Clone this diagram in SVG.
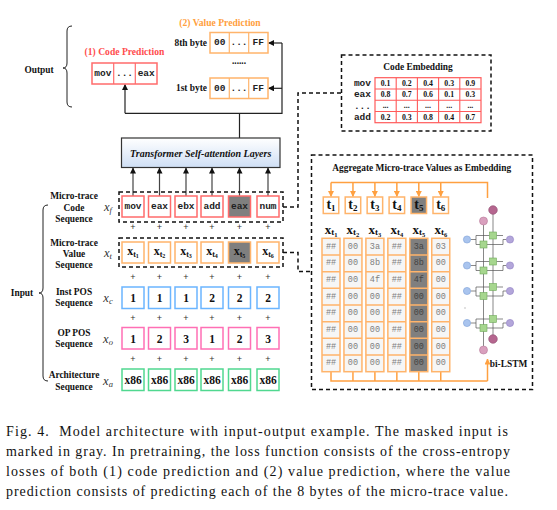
<svg xmlns="http://www.w3.org/2000/svg" width="557" height="510" viewBox="0 0 557 510">
<defs>
<style>
.lbl{font-family:"Liberation Serif",serif;font-weight:bold;font-size:9.4px;text-anchor:middle;dominant-baseline:central;fill:#111}
.mono{font-family:"Liberation Mono",monospace;font-weight:bold;font-size:9.5px;text-anchor:middle;dominant-baseline:central;fill:#222}
.num{font-family:"Liberation Serif",serif;font-weight:bold;font-size:11.5px;text-anchor:middle;dominant-baseline:central;fill:#111}
.math{font-family:"Liberation Serif",serif;font-style:italic;font-size:12.5px;text-anchor:middle;dominant-baseline:central;fill:#333}
.plus{font-family:"Liberation Sans",sans-serif;font-size:9px;text-anchor:middle;dominant-baseline:central;fill:#333}
.val{font-family:"Liberation Serif",serif;font-weight:bold;font-size:7.8px;text-anchor:middle;dominant-baseline:central;fill:#111}
.grid{font-family:"Liberation Mono",monospace;font-size:8.5px;text-anchor:middle;dominant-baseline:central;fill:#808080}
.cap{font-family:"Liberation Serif",serif;font-size:14px;fill:#111}
.cr{fill:#fff;stroke:#FF6B6B;stroke-width:1.5}
.co{fill:#fff;stroke:#FFB46B;stroke-width:1.5}
.cb{fill:#fff;stroke:#6BB5FF;stroke-width:1.5}
.cp{fill:#fff;stroke:#FF6FB5;stroke-width:1.5}
.cg{fill:#fff;stroke:#50D890;stroke-width:1.5}
.dash{fill:none;stroke:#111;stroke-width:1.5;stroke-dasharray:4 3}
.ln{fill:none;stroke:#222;stroke-width:1.2}
.ol{fill:none;stroke:#FFA040;stroke-width:1.5}
.lb{fill:#A9C4EE;stroke:#7C9FD6;stroke-width:0.6}
.lpu{fill:#B3A6DA;stroke:#8E7DC2;stroke-width:0.6}
.lg{fill:#A6D68E;stroke:#6FA85A;stroke-width:0.6}
.lt{fill:none;stroke:#555;stroke-width:0.7}
</style>
<marker id="ah" viewBox="0 0 6 6" refX="5.5" refY="3" markerWidth="6" markerHeight="6" markerUnits="userSpaceOnUse" orient="auto"><path d="M0,0 L6,3 L0,6 z" fill="#111"/></marker>
<marker id="aho" viewBox="0 0 6 6" refX="5.5" refY="3" markerWidth="6" markerHeight="6" markerUnits="userSpaceOnUse" orient="auto"><path d="M0,0 L6,3 L0,6 z" fill="#FFA040"/></marker>
<linearGradient id="tg" x1="0" y1="0" x2="0" y2="1"><stop offset="0" stop-color="#FFFFFF"/><stop offset="1" stop-color="#CFDFF5"/></linearGradient>
</defs>
<rect width="557" height="510" fill="#fff"/>

<g id="connectors">
<path class="ln" d="M239.5,138 V113.3 M125,113.3 H282 V43" />
<line class="ln" x1="125" y1="113.3" x2="125" y2="84.5" marker-end="url(#ah)"/>
<line class="ln" x1="282" y1="43" x2="268.5" y2="43" marker-end="url(#ah)"/>
<line class="ln" x1="282" y1="88.3" x2="268.5" y2="88.3" marker-end="url(#ah)"/>
<g stroke="#444" stroke-width="1.2">
<line x1="133" y1="196" x2="133" y2="168" marker-end="url(#ah)"/>
<line x1="159.5" y1="196" x2="159.5" y2="168" marker-end="url(#ah)"/>
<line x1="186" y1="196" x2="186" y2="168" marker-end="url(#ah)"/>
<line x1="212" y1="196" x2="212" y2="168" marker-end="url(#ah)"/>
<line x1="239.5" y1="196" x2="239.5" y2="168" marker-end="url(#ah)"/>
<line x1="268" y1="196" x2="268" y2="168" marker-end="url(#ah)"/>
</g>
<path class="dash" d="M283,207 H298 V93 H341.5"/>
<path class="dash" d="M283,252.5 H298 V271.5 H311.5"/>
<path class="ol" d="M331,182.5 H487.5 V198"/>
<g class="ol">
<line x1="331" y1="182.5" x2="331" y2="196.5" marker-end="url(#aho)"/>
<line x1="352.95" y1="182.5" x2="352.95" y2="196.5" marker-end="url(#aho)"/>
<line x1="374.9" y1="182.5" x2="374.9" y2="196.5" marker-end="url(#aho)"/>
<line x1="396.85" y1="182.5" x2="396.85" y2="196.5" marker-end="url(#aho)"/>
<line x1="418.8" y1="182.5" x2="418.8" y2="196.5" marker-end="url(#aho)"/>
<line x1="440.75" y1="182.5" x2="440.75" y2="196.5" marker-end="url(#aho)"/>
</g>
<path class="ol" d="M331,371.7 V381 H487.5 M352.95,371.7 V381 M374.9,371.7 V381 M396.85,371.7 V381 M418.8,371.7 V381 M440.75,371.7 V381"/>
<line class="ol" x1="487.5" y1="381" x2="487.5" y2="359" marker-end="url(#aho)"/>
</g>

<g id="output">
<text class="lbl" x="39" y="70">Output</text>
<path d="M72,26 Q67,26 67,31 V63 Q67,68 63,68 Q67,68 67,73 V102 Q67,107 72,107" fill="none" stroke="#222" stroke-width="1"/>
</g>

<g id="code-prediction">
<text class="lbl" x="124.5" y="51" style="fill:#FF4D4D;font-size:9.6px">(1) Code Prediction</text>
<rect class="cr" x="92" y="63" width="65" height="21"/>
<line x1="113.7" y1="63" x2="113.7" y2="84" stroke="#FF6B6B" stroke-width="1.2"/>
<line x1="135.3" y1="63" x2="135.3" y2="84" stroke="#FF6B6B" stroke-width="1.2"/>
<text class="mono" x="102.8" y="73.5">mov</text>
<text class="mono" x="124.5" y="73.5">...</text>
<text class="mono" x="146.2" y="73.5">eax</text>
</g>

<g id="value-prediction">
<text class="lbl" x="220" y="22.5" style="fill:#FFA040;font-size:9.6px">(2) Value Prediction</text>
<text class="lbl" x="207" y="43" style="text-anchor:end">8th byte</text>
<rect class="co" x="210" y="32.5" width="58" height="20.5"/>
<line x1="229.3" y1="32.5" x2="229.3" y2="53" stroke="#FFB46B" stroke-width="1.2"/>
<line x1="248.7" y1="32.5" x2="248.7" y2="53" stroke="#FFB46B" stroke-width="1.2"/>
<text class="mono" x="219.7" y="42.8">00</text>
<text class="mono" x="239" y="42.8">...</text>
<text class="mono" x="258.3" y="42.8">FF</text>
<text class="lbl" x="239" y="61">......</text>
<text class="lbl" x="207" y="88.3" style="text-anchor:end">1st byte</text>
<rect class="co" x="210" y="78" width="58" height="20.5"/>
<line x1="229.3" y1="78" x2="229.3" y2="98.5" stroke="#FFB46B" stroke-width="1.2"/>
<line x1="248.7" y1="78" x2="248.7" y2="98.5" stroke="#FFB46B" stroke-width="1.2"/>
<text class="mono" x="219.7" y="88.3">00</text>
<text class="mono" x="239" y="88.3">...</text>
<text class="mono" x="258.3" y="88.3">FF</text>
</g>

<g id="transformer">
<rect x="121.5" y="138" width="158.5" height="29.5" fill="url(#tg)" stroke="#333" stroke-width="1.2"/>
<text class="lbl" x="200.7" y="153" style="font-style:italic;font-size:10px">Transformer Self-attention Layers</text>
</g>

<g id="code-embedding">
<rect class="dash" x="341.5" y="55" width="149.5" height="76"/>
<text class="lbl" x="418" y="67">Code Embedding</text>
<rect x="375" y="77.7" width="106" height="45" fill="#fff" stroke="#FF5A5A" stroke-width="1.2"/>
<path d="M375,89 H481 M375,100.3 H481 M375,111.5 H481 M396.2,77.7 V122.7 M417.4,77.7 V122.7 M438.6,77.7 V122.7 M459.8,77.7 V122.7" stroke="#FF5A5A" stroke-width="1.1" fill="none"/>
<text x="371" y="83.3" class="mono" style="text-anchor:end">mov</text>
<text x="371" y="94.6" class="mono" style="text-anchor:end">eax</text>
<text x="371" y="106.5" class="mono" style="text-anchor:end">...</text>
<text x="371" y="117.1" class="mono" style="text-anchor:end">add</text>
<text class="val" x="385.6" y="83.3">0.1</text><text class="val" x="406.8" y="83.3">0.2</text><text class="val" x="428" y="83.3">0.4</text><text class="val" x="449.2" y="83.3">0.3</text><text class="val" x="470.4" y="83.3">0.9</text>
<text class="val" x="385.6" y="94.6">0.8</text><text class="val" x="406.8" y="94.6">0.7</text><text class="val" x="428" y="94.6">0.6</text><text class="val" x="449.2" y="94.6">0.1</text><text class="val" x="470.4" y="94.6">0.3</text>
<text class="val" x="385.6" y="105">...</text><text class="val" x="406.8" y="105">...</text><text class="val" x="428" y="105">...</text><text class="val" x="449.2" y="105">...</text><text class="val" x="470.4" y="105">...</text>
<text class="val" x="385.6" y="117.1">0.2</text><text class="val" x="406.8" y="117.1">0.3</text><text class="val" x="428" y="117.1">0.8</text><text class="val" x="449.2" y="117.1">0.4</text><text class="val" x="470.4" y="117.1">0.7</text>
</g>

<g id="input-brace">
<text class="lbl" x="22" y="293">Input</text>
<path d="M48,205 Q43,205 43,210 V288 Q43,293 39,293 Q43,293 43,298 V376 Q43,381 48,381" fill="none" stroke="#222" stroke-width="1"/>
</g>

<g id="code-seq">
<text class="lbl" x="74" y="196">Micro-trace</text>
<text class="lbl" x="74" y="207.7">Code</text>
<text class="lbl" x="74" y="219.3">Sequence</text>
<text class="math" x="108" y="207">x<tspan font-size="8.5" dy="2.5">f</tspan></text>
<rect class="dash" x="119" y="192" width="164" height="30"/>
<rect class="cr" x="122" y="196" width="22" height="21"/>
<rect class="cr" x="148.5" y="196" width="22" height="21"/>
<rect class="cr" x="175" y="196" width="22" height="21"/>
<rect class="cr" x="201" y="196" width="22" height="21"/>
<rect class="cr" x="228.5" y="196" width="22" height="21" style="fill:#7F7F7F"/>
<rect class="cr" x="257" y="196" width="22" height="21"/>
<text class="mono" x="133" y="206.5">mov</text>
<text class="mono" x="159.5" y="206.5">eax</text>
<text class="mono" x="186" y="206.5">ebx</text>
<text class="mono" x="212" y="206.5">add</text>
<text class="mono" x="239.5" y="206.5">eax</text>
<text class="mono" x="268" y="206.5">num</text>
<text class="plus" x="133" y="227">+</text><text class="plus" x="159.5" y="227">+</text><text class="plus" x="186" y="227">+</text><text class="plus" x="212" y="227">+</text><text class="plus" x="239.5" y="227">+</text><text class="plus" x="268" y="227">+</text>
</g>

<g id="value-seq">
<text class="lbl" x="74" y="242.7">Micro-trace</text>
<text class="lbl" x="74" y="253.7">Value</text>
<text class="lbl" x="74" y="264.7">Sequence</text>
<text class="math" x="108" y="253">x<tspan font-size="8.5" dy="2.5">t</tspan></text>
<rect class="dash" x="119" y="238" width="164" height="29"/>
<rect class="co" x="122" y="242" width="22" height="21"/>
<rect class="co" x="148.5" y="242" width="22" height="21"/>
<rect class="co" x="175" y="242" width="22" height="21"/>
<rect class="co" x="201" y="242" width="22" height="21"/>
<rect class="co" x="228.5" y="242" width="22" height="21" style="fill:#7F7F7F"/>
<rect class="co" x="257" y="242" width="22" height="21"/>
<text class="num" style="font-size:12px" x="133" y="251">x<tspan font-size="8" dy="3">t</tspan><tspan font-size="6" dy="1.5">1</tspan></text>
<text class="num" style="font-size:12px" x="159.5" y="251">x<tspan font-size="8" dy="3">t</tspan><tspan font-size="6" dy="1.5">2</tspan></text>
<text class="num" style="font-size:12px" x="186" y="251">x<tspan font-size="8" dy="3">t</tspan><tspan font-size="6" dy="1.5">3</tspan></text>
<text class="num" style="font-size:12px" x="212" y="251">x<tspan font-size="8" dy="3">t</tspan><tspan font-size="6" dy="1.5">4</tspan></text>
<text class="num" style="font-size:12px" x="239.5" y="251">x<tspan font-size="8" dy="3">t</tspan><tspan font-size="6" dy="1.5">5</tspan></text>
<text class="num" style="font-size:12px" x="268" y="251">x<tspan font-size="8" dy="3">t</tspan><tspan font-size="6" dy="1.5">6</tspan></text>
<text class="plus" x="133" y="277">+</text><text class="plus" x="159.5" y="277">+</text><text class="plus" x="186" y="277">+</text><text class="plus" x="212" y="277">+</text><text class="plus" x="239.5" y="277">+</text><text class="plus" x="268" y="277">+</text>
</g>

<g id="inst-pos">
<text class="lbl" x="74" y="292">Inst POS</text>
<text class="lbl" x="74" y="303.3">Sequence</text>
<text class="math" x="108" y="298">x<tspan font-size="8.5" dy="2.5">c</tspan></text>
<rect class="cb" x="122" y="287" width="22" height="21.5"/>
<rect class="cb" x="148.5" y="287" width="22" height="21.5"/>
<rect class="cb" x="175" y="287" width="22" height="21.5"/>
<rect class="cb" x="201" y="287" width="22" height="21.5"/>
<rect class="cb" x="228.5" y="287" width="22" height="21.5"/>
<rect class="cb" x="257" y="287" width="22" height="21.5"/>
<text class="num" x="133" y="298">1</text><text class="num" x="159.5" y="298">1</text><text class="num" x="186" y="298">1</text><text class="num" x="212" y="298">2</text><text class="num" x="239.5" y="298">2</text><text class="num" x="268" y="298">2</text>
<text class="plus" x="133" y="318">+</text><text class="plus" x="159.5" y="318">+</text><text class="plus" x="186" y="318">+</text><text class="plus" x="212" y="318">+</text><text class="plus" x="239.5" y="318">+</text><text class="plus" x="268" y="318">+</text>
</g>

<g id="op-pos">
<text class="lbl" x="74" y="333">OP POS</text>
<text class="lbl" x="74" y="344.3">Sequence</text>
<text class="math" x="108" y="339">x<tspan font-size="8.5" dy="2.5">o</tspan></text>
<rect class="cp" x="122" y="327.5" width="22" height="21.5"/>
<rect class="cp" x="148.5" y="327.5" width="22" height="21.5"/>
<rect class="cp" x="175" y="327.5" width="22" height="21.5"/>
<rect class="cp" x="201" y="327.5" width="22" height="21.5"/>
<rect class="cp" x="228.5" y="327.5" width="22" height="21.5"/>
<rect class="cp" x="257" y="327.5" width="22" height="21.5"/>
<text class="num" x="133" y="338.5">1</text><text class="num" x="159.5" y="338.5">2</text><text class="num" x="186" y="338.5">3</text><text class="num" x="212" y="338.5">1</text><text class="num" x="239.5" y="338.5">2</text><text class="num" x="268" y="338.5">3</text>
<text class="plus" x="133" y="359">+</text><text class="plus" x="159.5" y="359">+</text><text class="plus" x="186" y="359">+</text><text class="plus" x="212" y="359">+</text><text class="plus" x="239.5" y="359">+</text><text class="plus" x="268" y="359">+</text>
</g>

<g id="arch">
<text class="lbl" x="74" y="375">Architecture</text>
<text class="lbl" x="74" y="386.7">Sequence</text>
<text class="math" x="108" y="381">x<tspan font-size="8.5" dy="2.5">a</tspan></text>
<rect class="cg" x="122" y="369" width="22" height="21.5"/>
<rect class="cg" x="148.5" y="369" width="22" height="21.5"/>
<rect class="cg" x="175" y="369" width="22" height="21.5"/>
<rect class="cg" x="201" y="369" width="22" height="21.5"/>
<rect class="cg" x="228.5" y="369" width="22" height="21.5"/>
<rect class="cg" x="257" y="369" width="22" height="21.5"/>
<text class="num" x="133" y="380">x86</text><text class="num" x="159.5" y="380">x86</text><text class="num" x="186" y="380">x86</text><text class="num" x="212" y="380">x86</text><text class="num" x="239.5" y="380">x86</text><text class="num" x="268" y="380">x86</text>
</g>

<g id="aggregate">
<rect class="dash" x="311.5" y="155" width="221" height="234.5"/>
<text class="lbl" x="421.7" y="168">Aggregate Micro-trace Values as Embedding</text>
<g>
<rect class="co" x="323.25" y="197" width="15.5" height="16.5"/>
<rect class="co" x="345.2" y="197" width="15.5" height="16.5"/>
<rect class="co" x="367.15" y="197" width="15.5" height="16.5"/>
<rect class="co" x="389.1" y="197" width="15.5" height="16.5"/>
<rect class="co" x="411.05" y="197" width="15.5" height="16.5" style="fill:#7F7F7F"/>
<rect class="co" x="433" y="197" width="15.5" height="16.5"/>
<text class="num" style="font-size:14px" x="331" y="204.5">t<tspan font-size="9" dy="3">1</tspan></text>
<text class="num" style="font-size:14px" x="352.95" y="204.5">t<tspan font-size="9" dy="3">2</tspan></text>
<text class="num" style="font-size:14px" x="374.9" y="204.5">t<tspan font-size="9" dy="3">3</tspan></text>
<text class="num" style="font-size:14px" x="396.85" y="204.5">t<tspan font-size="9" dy="3">4</tspan></text>
<text class="num" style="font-size:14px" x="418.8" y="204.5">t<tspan font-size="9" dy="3">5</tspan></text>
<text class="num" style="font-size:14px" x="440.75" y="204.5">t<tspan font-size="9" dy="3">6</tspan></text>
</g>
<g>
<text class="num" style="font-size:13px" x="331" y="229">x<tspan font-size="9" dy="3">t</tspan><tspan font-size="6.5" dy="1.5">1</tspan></text>
<text class="num" style="font-size:13px" x="352.95" y="229">x<tspan font-size="9" dy="3">t</tspan><tspan font-size="6.5" dy="1.5">2</tspan></text>
<text class="num" style="font-size:13px" x="374.9" y="229">x<tspan font-size="9" dy="3">t</tspan><tspan font-size="6.5" dy="1.5">3</tspan></text>
<text class="num" style="font-size:13px" x="396.85" y="229">x<tspan font-size="9" dy="3">t</tspan><tspan font-size="6.5" dy="1.5">4</tspan></text>
<text class="num" style="font-size:13px" x="418.8" y="229">x<tspan font-size="9" dy="3">t</tspan><tspan font-size="6.5" dy="1.5">5</tspan></text>
<text class="num" style="font-size:13px" x="440.75" y="229">x<tspan font-size="9" dy="3">t</tspan><tspan font-size="6.5" dy="1.5">6</tspan></text>
</g>
<g id="value-grid">
<rect class="co" x="322" y="238.3" width="18" height="133.4" style="fill:#F6F6F6"/>
<rect class="co" x="343.95" y="238.3" width="18" height="133.4" style="fill:#F6F6F6"/>
<rect class="co" x="365.9" y="238.3" width="18" height="133.4" style="fill:#F6F6F6"/>
<rect class="co" x="387.85" y="238.3" width="18" height="133.4" style="fill:#F6F6F6"/>
<rect class="co" x="409.8" y="238.3" width="18" height="133.4" style="fill:#7F7F7F"/>
<rect class="co" x="431.75" y="238.3" width="18" height="133.4" style="fill:#F6F6F6"/>
<path d="M322,255 H340 M322,271.7 H340 M322,288.3 H340 M322,305 H340 M322,321.7 H340 M322,338.3 H340 M322,355 H340
M343.95,255 H361.95 M343.95,271.7 H361.95 M343.95,288.3 H361.95 M343.95,305 H361.95 M343.95,321.7 H361.95 M343.95,338.3 H361.95 M343.95,355 H361.95
M365.9,255 H383.9 M365.9,271.7 H383.9 M365.9,288.3 H383.9 M365.9,305 H383.9 M365.9,321.7 H383.9 M365.9,338.3 H383.9 M365.9,355 H383.9
M387.85,255 H405.85 M387.85,271.7 H405.85 M387.85,288.3 H405.85 M387.85,305 H405.85 M387.85,321.7 H405.85 M387.85,338.3 H405.85 M387.85,355 H405.85
M409.8,255 H427.8 M409.8,271.7 H427.8 M409.8,288.3 H427.8 M409.8,305 H427.8 M409.8,321.7 H427.8 M409.8,338.3 H427.8 M409.8,355 H427.8
M431.75,255 H449.75 M431.75,271.7 H449.75 M431.75,288.3 H449.75 M431.75,305 H449.75 M431.75,321.7 H449.75 M431.75,338.3 H449.75 M431.75,355 H449.75" stroke="#FFB46B" stroke-width="1.5" fill="none"/>
<text class="grid" x="331" y="246.6">##</text><text class="grid" x="352.95" y="246.6">00</text><text class="grid" x="374.9" y="246.6">3a</text><text class="grid" x="396.85" y="246.6">##</text><text class="grid" x="418.8" y="246.6" style="fill:#444">3a</text><text class="grid" x="440.75" y="246.6">03</text>
<text class="grid" x="331" y="263.3">##</text><text class="grid" x="352.95" y="263.3">00</text><text class="grid" x="374.9" y="263.3">8b</text><text class="grid" x="396.85" y="263.3">##</text><text class="grid" x="418.8" y="263.3" style="fill:#444">8b</text><text class="grid" x="440.75" y="263.3">00</text>
<text class="grid" x="331" y="280">##</text><text class="grid" x="352.95" y="280">00</text><text class="grid" x="374.9" y="280">4f</text><text class="grid" x="396.85" y="280">##</text><text class="grid" x="418.8" y="280" style="fill:#444">4f</text><text class="grid" x="440.75" y="280">00</text>
<text class="grid" x="331" y="296.6">##</text><text class="grid" x="352.95" y="296.6">00</text><text class="grid" x="374.9" y="296.6">00</text><text class="grid" x="396.85" y="296.6">##</text><text class="grid" x="418.8" y="296.6" style="fill:#444">00</text><text class="grid" x="440.75" y="296.6">00</text>
<text class="grid" x="331" y="313.3">##</text><text class="grid" x="352.95" y="313.3">00</text><text class="grid" x="374.9" y="313.3">00</text><text class="grid" x="396.85" y="313.3">##</text><text class="grid" x="418.8" y="313.3" style="fill:#444">00</text><text class="grid" x="440.75" y="313.3">00</text>
<text class="grid" x="331" y="330">##</text><text class="grid" x="352.95" y="330">00</text><text class="grid" x="374.9" y="330">00</text><text class="grid" x="396.85" y="330">##</text><text class="grid" x="418.8" y="330" style="fill:#444">00</text><text class="grid" x="440.75" y="330">00</text>
<text class="grid" x="331" y="346.6">##</text><text class="grid" x="352.95" y="346.6">00</text><text class="grid" x="374.9" y="346.6">00</text><text class="grid" x="396.85" y="346.6">##</text><text class="grid" x="418.8" y="346.6" style="fill:#444">00</text><text class="grid" x="440.75" y="346.6">00</text>
<text class="grid" x="331" y="363.3">##</text><text class="grid" x="352.95" y="363.3">00</text><text class="grid" x="374.9" y="363.3">00</text><text class="grid" x="396.85" y="363.3">##</text><text class="grid" x="418.8" y="363.3" style="fill:#444">00</text><text class="grid" x="440.75" y="363.3">00</text>
</g>
</g>

<g id="bi-lstm">
<path class="lt" d="M483.5,225 V346 M493,214 V335"/>
<path class="lt" d="M470.6,239.5 H476 V244.5 H480 M476,239.5 V235.5 H489.5 M487,244.5 H503 V239.5 H506.4 M496.5,235.5 H503"/>
<circle class="lb" cx="467" cy="239.5" r="3.6"/><rect class="lg" x="480" y="241" width="7" height="7"/><rect class="lg" x="489.5" y="232" width="7" height="7"/><circle class="lpu" cx="510" cy="239.5" r="3.6"/>
<path class="lt" d="M470.6,265.5 H476 V270.5 H480 M476,265.5 V261.5 H489.5 M487,270.5 H503 V265.5 H506.4 M496.5,261.5 H503"/>
<circle class="lb" cx="467" cy="265.5" r="3.6"/><rect class="lg" x="480" y="267" width="7" height="7"/><rect class="lg" x="489.5" y="258" width="7" height="7"/><circle class="lpu" cx="510" cy="265.5" r="3.6"/>
<path class="lt" d="M470.6,291 H476 V296 H480 M476,291 V287 H489.5 M487,296 H503 V291 H506.4 M496.5,287 H503"/>
<circle class="lb" cx="467" cy="291" r="3.6"/><rect class="lg" x="480" y="292.5" width="7" height="7"/><rect class="lg" x="489.5" y="283.5" width="7" height="7"/><circle class="lpu" cx="510" cy="291" r="3.6"/>
<path class="lt" d="M470.6,323 H476 V328 H480 M476,323 V319 H489.5 M487,328 H503 V323 H506.4 M496.5,319 H503"/>
<circle class="lb" cx="467" cy="323" r="3.6"/><rect class="lg" x="480" y="324.5" width="7" height="7"/><rect class="lg" x="489.5" y="315.5" width="7" height="7"/><circle class="lpu" cx="510" cy="323" r="3.6"/>
<circle cx="493" cy="210" r="4.3" fill="#B5668F" stroke="#8E4A6E" stroke-width="0.6"/>
<circle cx="483.5" cy="221" r="4" fill="#D9A0BE" stroke="#B77898" stroke-width="0.6"/>
<circle cx="493" cy="339" r="4.3" fill="#B5668F" stroke="#8E4A6E" stroke-width="0.6"/>
<circle cx="483.5" cy="350" r="4" fill="#D9A0BE" stroke="#B77898" stroke-width="0.6"/>
<circle cx="465" cy="308" r="0.8" fill="#bbb"/>
<text class="lbl" x="508.5" y="364">bi-LSTM</text>
</g>

<g id="caption">
<text class="cap" x="6" y="436" textLength="502" lengthAdjust="spacing">Fig. 4.&#160; Model architecture with input-output example. The masked input is</text>
<text class="cap" x="6" y="456" textLength="504" lengthAdjust="spacing">marked in gray. In pretraining, the loss function consists of the cross-entropy</text>
<text class="cap" x="6" y="476" textLength="504" lengthAdjust="spacing">losses of both (1) code prediction and (2) value prediction, where the value</text>
<text class="cap" x="6" y="496" textLength="502" lengthAdjust="spacing">prediction consists of predicting each of the 8 bytes of the micro-trace value.</text>
</g>
</svg>
